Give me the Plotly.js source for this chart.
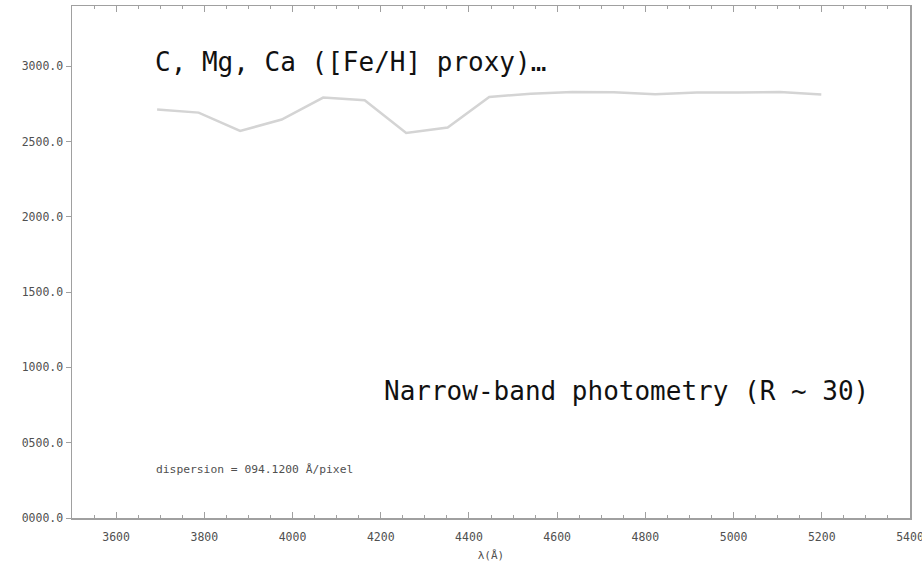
<!DOCTYPE html>
<html>
<head>
<meta charset="utf-8">
<script src="https://cdn.plot.ly/plotly-3.0.1.min.js"></script>
<style>
  html, body { margin: 0; padding: 0; background: #ffffff; }
  #chart { width: 922px; height: 566px; }
</style>
</head>
<body>
<div id="chart"></div>
<script>
// Wavelength grid (Å) of the narrow-band samples
const wavelength = [3693.0, 3787.1, 3881.2, 3975.4, 4069.5, 4163.6, 4257.7, 4351.8, 4446.0,
                    4540.1, 4634.2, 4728.3, 4822.4, 4916.6, 5010.7, 5104.8, 5198.9];
// Measured flux at each sample
const flux = [2712, 2692, 2570, 2646, 2792, 2774, 2557, 2593, 2796,
              2818, 2829, 2827, 2814, 2825, 2825, 2829, 2812];

// Axis ticks and their labels
const yTickVals = [0, 500, 1000, 1500, 2000, 2500, 3000];
const yTickText = ["0000.0", "0500.0", "1000.0", "1500.0", "2000.0", "2500.0", "3000.0"];
const xTickVals = [3600, 3800, 4000, 4200, 4400, 4600, 4800, 5000, 5200, 5400];
const xTickText = ["3600", "3800", "4000", "4200", "4400", "4600", "4800", "5000", "5200", "5400"];

const labelTop = "C, Mg, Ca ([Fe/H] proxy)…";
const labelBottom = "Narrow-band photometry (R ~ 30)";
const dispersionText = "dispersion = 094.1200 Å/pixel";

const mono = "DejaVu Sans Mono, monospace";
const axisColor = "#a0a0a0";
const tickFont = { family: mono, size: 11.5, color: "#505050" };

const trace = {
  x: wavelength,
  y: flux,
  type: "scatter",
  mode: "lines",
  line: { color: "#d4d4d4", width: 2.5 },
  hoverinfo: "skip"
};

const layout = {
  width: 922,
  height: 566,
  margin: { l: 72, r: 12, t: 6, b: 48 },
  paper_bgcolor: "#ffffff",
  plot_bgcolor: "#ffffff",
  showlegend: false,
  xaxis: {
    range: [3500, 5400.01],
    tickmode: "array",
    tickvals: xTickVals,
    ticktext: xTickText,
    ticklabeloverflow: "allow",
    ticks: "inside",
    ticklen: 6,
    tickwidth: 1,
    tickcolor: axisColor,
    ticklabelstandoff: 8,
    minor: { dtick: 50, tick0: 3500, ticks: "inside", ticklen: 3, tickcolor: axisColor, showgrid: false },
    showline: true,
    linecolor: axisColor,
    linewidth: 1.5,
    mirror: "ticks",
    showgrid: false,
    zeroline: false,
    tickfont: tickFont,
    title: { text: "λ(Å)", font: { family: mono, size: 11, color: "#505050" }, standoff: 8 }
  },
  yaxis: {
    range: [0, 3400],
    tickmode: "array",
    tickvals: yTickVals,
    ticktext: yTickText,
    ticks: "outside",
    ticklen: 5,
    tickwidth: 1,
    tickcolor: axisColor,
    showline: true,
    linecolor: axisColor,
    linewidth: 1.5,
    mirror: true,
    showgrid: false,
    zeroline: false,
    tickfont: tickFont
  },
  annotations: [
    {
      text: labelTop, xref: "paper", yref: "paper",
      x: 0.0967, y: 0.89, xanchor: "left", yanchor: "middle",
      showarrow: false,
      font: { family: mono, size: 26, color: "#111111" }
    },
    {
      text: labelBottom, xref: "paper", yref: "paper",
      x: 0.9535, y: 0.248, xanchor: "right", yanchor: "middle",
      showarrow: false,
      font: { family: mono, size: 26, color: "#111111" }
    },
    {
      text: dispersionText, xref: "paper", yref: "paper",
      x: 0.098, y: 0.094, xanchor: "left", yanchor: "middle",
      showarrow: false,
      font: { family: mono, size: 11.3, color: "#505050" }
    }
  ]
};

Plotly.newPlot("chart", [trace], layout, { displayModeBar: false, staticPlot: true });
</script>
</body>
</html>
